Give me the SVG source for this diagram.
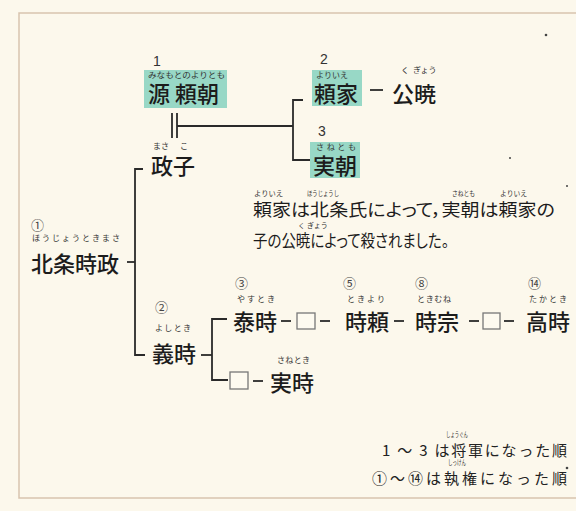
<svg xmlns="http://www.w3.org/2000/svg" width="576" height="511" viewBox="0 0 576 511">
<style>
text{font-family:"Noto Sans CJK JP","Noto Sans",sans-serif;fill:#1c1c1c}
.nm{font-size:22px;font-weight:500}
.rb{font-size:8px;fill:#333}
.rs{font-size:7px;fill:#333}
.num{font-family:"Liberation Sans",Arial,sans-serif;font-size:14px;fill:#333}
.cn{font-size:13px;fill:#444}
.hl{fill:#98d8c6}
.ln{stroke:#2a2a2a;stroke-width:1.8;fill:none}
.bx{fill:#fdfaf0;stroke:#777;stroke-width:1.3}
.para{font-size:17px;font-feature-settings:"palt"}
.note{font-size:15px;fill:#222}
</style>
<rect x="0" y="0" width="576" height="511" fill="#fcf8ec"/>
<path d="M580 13 H19 V498 H580" fill="none" stroke="#d8c3ae" stroke-width="1.5"/>
<g fill="#444">
<circle cx="546" cy="35" r="1.3"/>
<circle cx="510" cy="158" r="1"/>
<circle cx="567" cy="186" r="1"/>
<circle cx="567" cy="468" r="1.3"/>
</g>

<g id="connectors">
<line class="ln" x1="172" y1="113" x2="172" y2="138"/>
<line class="ln" x1="177" y1="113" x2="177" y2="138"/>
<line class="ln" x1="177" y1="126" x2="293" y2="126"/>
<path class="ln" d="M303 100 H293 V160 H310"/>
<line class="ln" x1="370" y1="90" x2="383" y2="90"/>
<path class="ln" d="M143 169 H135 V355 H145"/>
<line class="ln" x1="127" y1="262" x2="135" y2="262"/>
<line class="ln" x1="201" y1="355" x2="212" y2="355"/>
<path class="ln" d="M227 319 H212 V380 H228"/>
<line class="ln" x1="281" y1="321" x2="291" y2="321"/>
<line class="ln" x1="320" y1="321" x2="330" y2="321"/>
<line class="ln" x1="394" y1="321" x2="404" y2="321"/>
<line class="ln" x1="469" y1="321" x2="479" y2="321"/>
<line class="ln" x1="504" y1="321" x2="514" y2="321"/>
<line class="ln" x1="253" y1="381" x2="263" y2="381"/>
<rect class="bx" x="297" y="313" width="18" height="16"/>
<rect class="bx" x="483" y="313" width="17" height="16"/>
<rect class="bx" x="230" y="372" width="18" height="17"/>
</g>

<g id="yoritomo">
<rect class="hl" x="144" y="70" width="83" height="38"/>
<text class="num" x="153" y="66">1</text>
<text class="rb" x="148" y="78" textLength="77" lengthAdjust="spacingAndGlyphs">みなもとのよりとも</text>
<text class="nm" x="148" y="102">源 頼朝</text>
</g>

<g id="yoriie">
<rect class="hl" x="312" y="70" width="50" height="36"/>
<text class="num" x="320" y="64">2</text>
<text class="rb" x="316" y="78" textLength="32">よりいえ</text>
<text class="nm" x="314" y="102">頼家</text>
</g>

<g id="kugyo">
<text class="rb" x="401" y="73">く</text>
<text class="rb" x="413" y="73">ぎょう</text>
<text class="nm" x="392" y="102">公暁</text>
</g>

<g id="sanetomo">
<rect class="hl" x="310" y="142" width="50" height="36"/>
<text class="num" x="318" y="136">3</text>
<text class="rb" x="316" y="150" textLength="40">さねとも</text>
<text class="nm" x="313" y="174">実朝</text>
</g>

<g id="masako">
<text class="rb" x="153" y="149">まさ</text>
<text class="rb" x="180" y="149">こ</text>
<text class="nm" x="151" y="174">政子</text>
</g>

<g id="tokimasa">
<text class="cn" x="31" y="230">①</text>
<text class="rb" x="32" y="241" textLength="88">ほうじょうときまさ</text>
<text class="nm" x="31" y="272">北条時政</text>
</g>

<g id="note-text">
<text class="rs" x="254" y="196" textLength="29" lengthAdjust="spacingAndGlyphs">よりいえ</text>
<text class="rs" x="307" y="196" textLength="32" lengthAdjust="spacingAndGlyphs">ほうじょうし</text>
<text class="rs" x="452" y="196" textLength="23" lengthAdjust="spacingAndGlyphs">さねとも</text>
<text class="rs" x="500" y="196" textLength="27" lengthAdjust="spacingAndGlyphs">よりいえ</text>
<text class="para" x="253" y="216" textLength="302" lengthAdjust="spacingAndGlyphs">頼家は北条氏によって，実朝は頼家の</text>
<text class="rs" x="298" y="228">く</text>
<text class="rs" x="307" y="228">ぎょう</text>
<text class="para" x="253" y="247" textLength="196" lengthAdjust="spacingAndGlyphs">子の公暁によって殺されました。</text>
</g>

<g id="yoshitoki">
<text class="cn" x="155" y="312">②</text>
<text class="rb" x="155" y="331" textLength="36">よしとき</text>
<text class="nm" x="152" y="362">義時</text>
</g>

<g id="yasutoki">
<text class="cn" x="235" y="288">③</text>
<text class="rb" x="237" y="302" textLength="38">やすとき</text>
<text class="nm" x="233" y="330">泰時</text>
</g>

<g id="tokiyori">
<text class="cn" x="343" y="288">⑤</text>
<text class="rb" x="347" y="302" textLength="38">ときより</text>
<text class="nm" x="345" y="330">時頼</text>
</g>

<g id="tokimune">
<text class="cn" x="415" y="288">⑧</text>
<text class="rb" x="417" y="302" textLength="34">ときむね</text>
<text class="nm" x="415" y="330">時宗</text>
</g>

<g id="takatoki">
<text class="cn" x="528" y="288">⑭</text>
<text class="rb" x="529" y="302" textLength="38">たかとき</text>
<text class="nm" x="526" y="330">高時</text>
</g>

<g id="sanetoki">
<text class="rb" x="277" y="363" textLength="33">さねとき</text>
<text class="nm" x="270" y="391">実時</text>
</g>

<g id="legend">
<text class="rs" x="446" y="437" textLength="22" lengthAdjust="spacingAndGlyphs">しょうぐん</text>
<text class="note" x="382" y="456" textLength="185" lengthAdjust="spacing">1 ～ 3 は将軍になった順</text>
<text class="rs" x="448" y="465" textLength="18" lengthAdjust="spacingAndGlyphs">しっけん</text>
<text class="note" x="372" y="484" textLength="195" lengthAdjust="spacing">①～⑭は執権になった順</text>
</g>
</svg>
